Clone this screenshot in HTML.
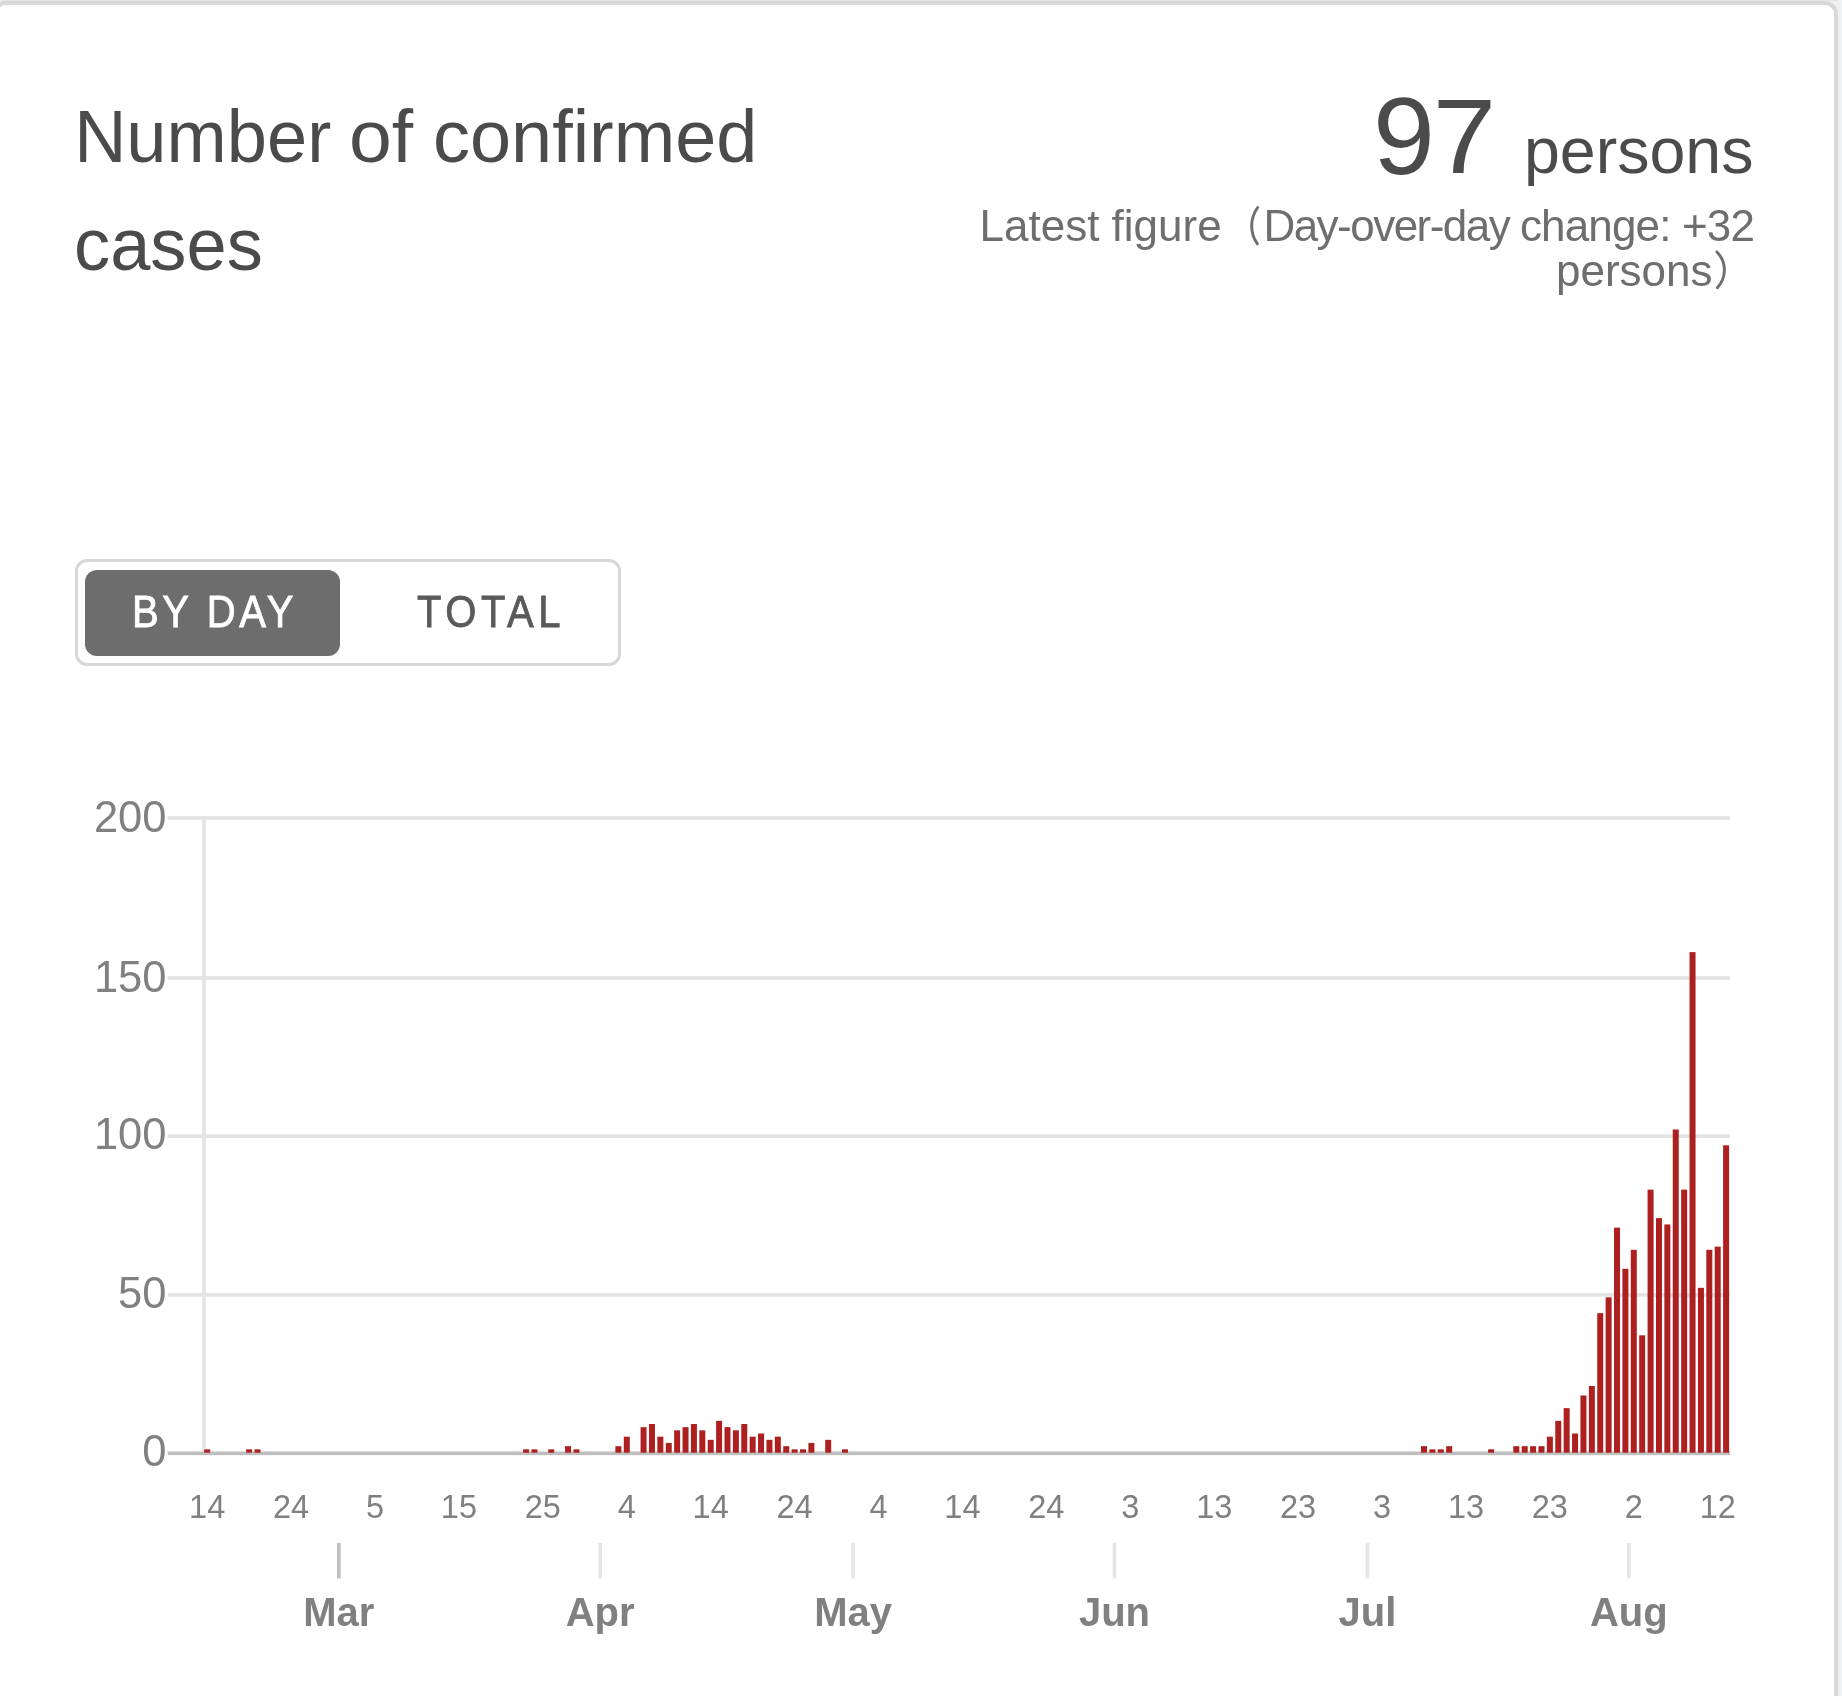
<!DOCTYPE html>
<html><head><meta charset="utf-8"><title>Number of confirmed cases</title>
<style>
html,body{margin:0;padding:0;}
body{width:1842px;height:1696px;overflow:hidden;position:relative;background:#eff0f2;font-family:"Liberation Sans",sans-serif;}
.topstrip{position:absolute;left:0;top:0;width:1838px;height:1px;background:#e4e4e4;}
.card{position:absolute;left:-7px;top:1px;width:1845px;height:1800px;box-sizing:border-box;border:4px solid #d8d8d8;border-left-width:4px;border-right-width:4px;border-radius:13px;background:#fff;}
.t{position:absolute;white-space:nowrap;line-height:1;}
.title{font-size:74px;color:#4b4b4b;}
.big{font-size:106.5px;color:#4b4b4b;}
.unit{font-size:64.5px;color:#4b4b4b;}
.sub{font-size:44px;color:#6e6e6e;}
.toggle{position:absolute;left:74.5px;top:559px;width:546px;height:107px;box-sizing:border-box;border:3.6px solid #d7d7d7;border-radius:12px;background:#fff;}
.on{position:absolute;left:85.2px;top:570px;width:255.3px;height:85.6px;border-radius:12px;background:#6d6d6d;}
.btn{font-size:44px;}
svg{position:absolute;left:0;top:0;}
.gl{position:absolute;left:0;top:0;width:1842px;height:1696px;filter:grayscale(1);}
svg text{font-family:"Liberation Sans",sans-serif;fill:#808080;}
.yl{font-size:43.5px;}
.dl{font-size:32.5px;}
.ml{font-size:40px;font-weight:bold;}
</style></head>
<body>
<div class="topstrip"></div>
<div class="card"></div>
<div class="gl">
<div class="t title" id="t1a" style="left:74px;top:99.7px;transform:scaleX(0.977);transform-origin:6px 0;">Number</div>
<div class="t title" id="t1b" style="left:349px;top:99.7px;transform:scaleX(1.04);transform-origin:3px 0;">of</div>
<div class="t title" id="t1c" style="left:433px;top:99.7px;transform:scaleX(0.9985);transform-origin:3px 0;">confirmed</div>
<div class="t title" id="t2" style="left:74.4px;top:207.6px;transform:scaleX(0.976);transform-origin:3px 0;">cases</div>
<div class="t big" id="n9" style="left:1372.6px;top:82.6px;font-size:108.5px;transform:scaleX(1.025);transform-origin:5px 0;">9</div>
<div class="t big" id="n7" style="left:1432.6px;top:83.6px;transform:scaleX(1.07);transform-origin:5px 0;">7</div>
<div class="t unit" id="u1" style="left:1524px;top:118.9px;">persons</div>
<div class="t sub" id="s1a" style="left:979.5px;top:204.3px;">Latest figure</div>
<div class="t sub" id="s1c" style="left:1263.4px;top:204.3px;"><span style="letter-spacing:-1.52px">Day-over-day </span><span style="letter-spacing:-0.85px">change: +32</span></div>
<div class="t sub" id="s2" style="left:1556px;top:249px;">persons</div>
<div class="toggle"></div>
<div class="on"></div>
<div class="t btn" id="b1" style="left:131.9px;top:590.3px;color:#fff;letter-spacing:4px;transform:scaleX(0.91);transform-origin:0 0;-webkit-text-stroke:0.8px #fff;">BY DAY</div>
<div class="t btn" id="b2" style="left:416.9px;top:590.3px;color:#5a5a5a;letter-spacing:5px;transform:scaleX(0.91);transform-origin:0 0;-webkit-text-stroke:0.8px #5a5a5a;">TOTAL</div>
<svg width="1842" height="1696" viewBox="0 0 1842 1696">
<rect x="167.6" y="816.18" width="1562.40" height="3.64" fill="#e3e3e3"/>
<rect x="167.6" y="976.18" width="1562.40" height="3.64" fill="#e3e3e3"/>
<rect x="167.6" y="1134.38" width="1562.40" height="3.64" fill="#e3e3e3"/>
<rect x="167.6" y="1293.08" width="1562.40" height="3.64" fill="#e3e3e3"/>
<rect x="202.13" y="819.8" width="3.64" height="631.8" fill="#e4e4e4"/>
<rect x="167.6" y="1451.5" width="1562.40" height="3.64" fill="#bfbfbf"/>
<text x="166.5" y="832.4" text-anchor="end" class="yl">200</text>
<text x="166.5" y="991.9" text-anchor="end" class="yl">150</text>
<text x="166.5" y="1149.2" text-anchor="end" class="yl">100</text>
<text x="166.5" y="1308.0" text-anchor="end" class="yl">50</text>
<text x="166.5" y="1465.6" text-anchor="end" class="yl">0</text>
<text x="207.20" y="1518.2" text-anchor="middle" class="dl">14</text>
<text x="291.11" y="1518.2" text-anchor="middle" class="dl">24</text>
<text x="375.03" y="1518.2" text-anchor="middle" class="dl">5</text>
<text x="458.95" y="1518.2" text-anchor="middle" class="dl">15</text>
<text x="542.87" y="1518.2" text-anchor="middle" class="dl">25</text>
<text x="626.78" y="1518.2" text-anchor="middle" class="dl">4</text>
<text x="710.70" y="1518.2" text-anchor="middle" class="dl">14</text>
<text x="794.62" y="1518.2" text-anchor="middle" class="dl">24</text>
<text x="878.54" y="1518.2" text-anchor="middle" class="dl">4</text>
<text x="962.45" y="1518.2" text-anchor="middle" class="dl">14</text>
<text x="1046.37" y="1518.2" text-anchor="middle" class="dl">24</text>
<text x="1130.29" y="1518.2" text-anchor="middle" class="dl">3</text>
<text x="1214.21" y="1518.2" text-anchor="middle" class="dl">13</text>
<text x="1298.12" y="1518.2" text-anchor="middle" class="dl">23</text>
<text x="1382.04" y="1518.2" text-anchor="middle" class="dl">3</text>
<text x="1465.96" y="1518.2" text-anchor="middle" class="dl">13</text>
<text x="1549.88" y="1518.2" text-anchor="middle" class="dl">23</text>
<text x="1633.79" y="1518.2" text-anchor="middle" class="dl">2</text>
<text x="1717.71" y="1518.2" text-anchor="middle" class="dl">12</text>
<rect x="336.98" y="1543" width="3.64" height="35.4" fill="#bfbfbf"/>
<text x="338.80" y="1625.5" text-anchor="middle" class="ml">Mar</text>
<rect x="598.36" y="1543" width="3.64" height="35.4" fill="#e5e5e5"/>
<text x="600.18" y="1625.5" text-anchor="middle" class="ml">Apr</text>
<rect x="851.31" y="1543" width="3.64" height="35.4" fill="#e5e5e5"/>
<text x="853.13" y="1625.5" text-anchor="middle" class="ml">May</text>
<rect x="1112.68" y="1543" width="3.64" height="35.4" fill="#e5e5e5"/>
<text x="1114.50" y="1625.5" text-anchor="middle" class="ml">Jun</text>
<rect x="1365.63" y="1543" width="3.64" height="35.4" fill="#e5e5e5"/>
<text x="1367.45" y="1625.5" text-anchor="middle" class="ml">Jul</text>
<rect x="1627.00" y="1543" width="3.64" height="35.4" fill="#e5e5e5"/>
<text x="1628.82" y="1625.5" text-anchor="middle" class="ml">Aug</text>
<path d="M1257.7,207.5 A31.2,31.2 0 0 0 1257.4,243.9" fill="none" stroke="#6e6e6e" stroke-width="2.9" stroke-linecap="round"/>
<path d="M1716.9,251.9 A25.7,25.7 0 0 1 1717.4,287.7" fill="none" stroke="#6e6e6e" stroke-width="2.9" stroke-linecap="round"/>
</svg>
</div>
<svg width="1842" height="1696" viewBox="0 0 1842 1696"><g fill="#ae201f">
<rect x="204.20" y="1449.33" width="6.0" height="3.37"/>
<rect x="246.15" y="1449.33" width="6.0" height="3.37"/>
<rect x="254.55" y="1449.33" width="6.0" height="3.37"/>
<rect x="523.08" y="1449.33" width="6.0" height="3.37"/>
<rect x="531.47" y="1449.33" width="6.0" height="3.37"/>
<rect x="548.26" y="1449.33" width="6.0" height="3.37"/>
<rect x="565.04" y="1446.17" width="6.0" height="6.53"/>
<rect x="573.43" y="1449.33" width="6.0" height="3.37"/>
<rect x="615.39" y="1446.17" width="6.0" height="6.53"/>
<rect x="623.78" y="1436.66" width="6.0" height="16.04"/>
<rect x="640.57" y="1427.16" width="6.0" height="25.54"/>
<rect x="648.96" y="1424.00" width="6.0" height="28.70"/>
<rect x="657.35" y="1436.66" width="6.0" height="16.04"/>
<rect x="665.74" y="1443.00" width="6.0" height="9.70"/>
<rect x="674.13" y="1430.33" width="6.0" height="22.37"/>
<rect x="682.53" y="1427.16" width="6.0" height="25.54"/>
<rect x="690.92" y="1424.00" width="6.0" height="28.70"/>
<rect x="699.31" y="1430.33" width="6.0" height="22.37"/>
<rect x="707.70" y="1439.83" width="6.0" height="12.87"/>
<rect x="716.09" y="1420.83" width="6.0" height="31.87"/>
<rect x="724.48" y="1427.16" width="6.0" height="25.54"/>
<rect x="732.88" y="1430.33" width="6.0" height="22.37"/>
<rect x="741.27" y="1424.00" width="6.0" height="28.70"/>
<rect x="749.66" y="1436.66" width="6.0" height="16.04"/>
<rect x="758.05" y="1433.50" width="6.0" height="19.20"/>
<rect x="766.44" y="1439.83" width="6.0" height="12.87"/>
<rect x="774.84" y="1436.66" width="6.0" height="16.04"/>
<rect x="783.23" y="1446.17" width="6.0" height="6.53"/>
<rect x="791.62" y="1449.33" width="6.0" height="3.37"/>
<rect x="800.01" y="1449.33" width="6.0" height="3.37"/>
<rect x="808.40" y="1443.00" width="6.0" height="9.70"/>
<rect x="825.19" y="1439.83" width="6.0" height="12.87"/>
<rect x="841.97" y="1449.33" width="6.0" height="3.37"/>
<rect x="1421.00" y="1446.17" width="6.0" height="6.53"/>
<rect x="1429.39" y="1449.33" width="6.0" height="3.37"/>
<rect x="1437.78" y="1449.33" width="6.0" height="3.37"/>
<rect x="1446.18" y="1446.17" width="6.0" height="6.53"/>
<rect x="1488.13" y="1449.33" width="6.0" height="3.37"/>
<rect x="1513.31" y="1446.17" width="6.0" height="6.53"/>
<rect x="1521.70" y="1446.17" width="6.0" height="6.53"/>
<rect x="1530.09" y="1446.17" width="6.0" height="6.53"/>
<rect x="1538.49" y="1446.17" width="6.0" height="6.53"/>
<rect x="1546.88" y="1436.66" width="6.0" height="16.04"/>
<rect x="1555.27" y="1420.83" width="6.0" height="31.87"/>
<rect x="1563.66" y="1408.16" width="6.0" height="44.54"/>
<rect x="1572.05" y="1433.50" width="6.0" height="19.20"/>
<rect x="1580.44" y="1395.49" width="6.0" height="57.21"/>
<rect x="1588.84" y="1385.99" width="6.0" height="66.71"/>
<rect x="1597.23" y="1313.15" width="6.0" height="139.55"/>
<rect x="1605.62" y="1297.32" width="6.0" height="155.38"/>
<rect x="1614.01" y="1227.64" width="6.0" height="225.06"/>
<rect x="1622.40" y="1268.81" width="6.0" height="183.89"/>
<rect x="1630.79" y="1249.81" width="6.0" height="202.89"/>
<rect x="1639.19" y="1335.32" width="6.0" height="117.38"/>
<rect x="1647.58" y="1189.64" width="6.0" height="263.06"/>
<rect x="1655.97" y="1218.14" width="6.0" height="234.56"/>
<rect x="1664.36" y="1224.48" width="6.0" height="228.22"/>
<rect x="1672.75" y="1129.47" width="6.0" height="323.23"/>
<rect x="1681.15" y="1189.64" width="6.0" height="263.06"/>
<rect x="1689.54" y="952.11" width="6.0" height="500.59"/>
<rect x="1697.93" y="1287.82" width="6.0" height="164.88"/>
<rect x="1706.32" y="1249.81" width="6.0" height="202.89"/>
<rect x="1714.71" y="1246.64" width="6.0" height="206.06"/>
<rect x="1723.10" y="1145.30" width="6.0" height="307.40"/>
</g></svg>
</body></html>
